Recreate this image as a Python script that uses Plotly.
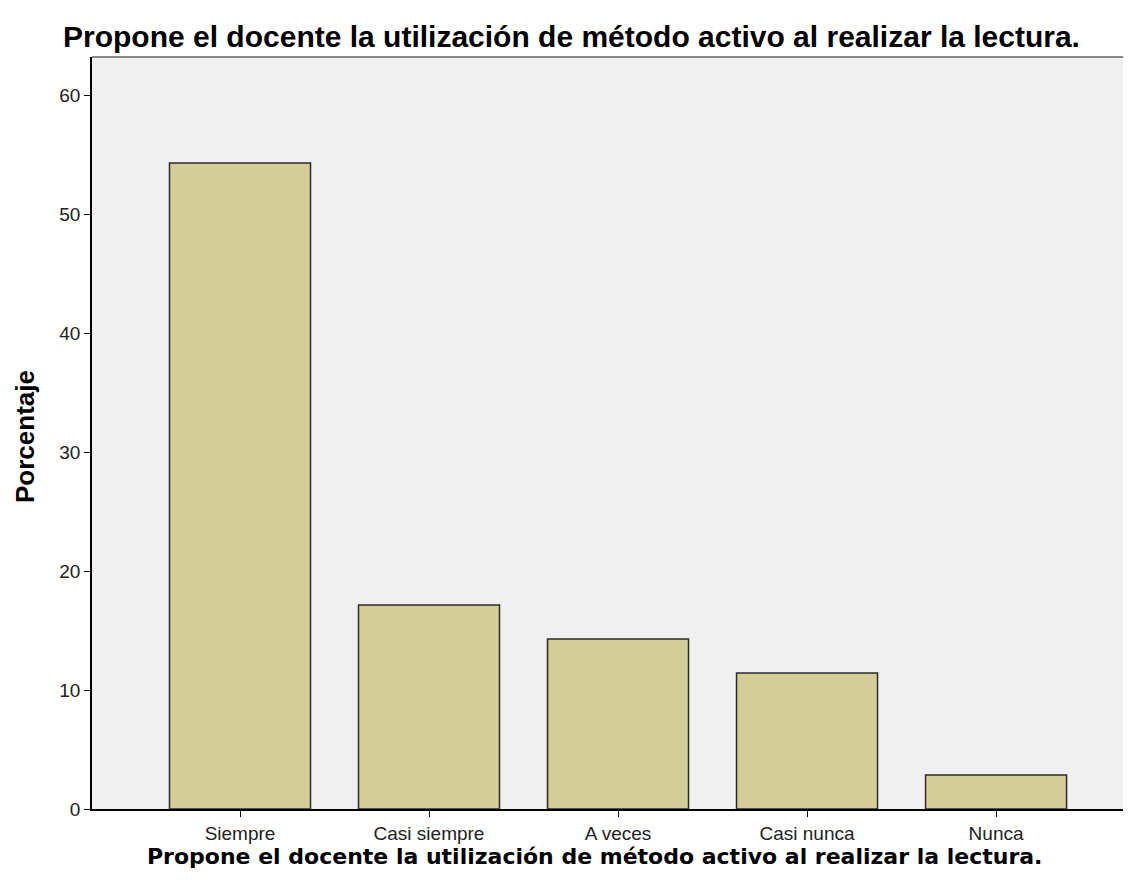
import plotly.graph_objects as go

categories = ["Siempre", "Casi siempre", "A veces", "Casi nunca", "Nunca"]
percentages = [54.29, 17.14, 14.29, 11.43, 2.86]
y_ticks = [0, 10, 20, 30, 40, 50, 60]

title_text = "Propone el docente la utilización de método activo al realizar la lectura."
y_title = "Porcentaje"

W, H = 1131, 890
fig = go.Figure(
    go.Bar(
        x=categories,
        y=percentages,
        width=0.746,
        marker=dict(color="#D3CE98", line=dict(color="#2b2b2b", width=1.5)),
    )
)

fig.update_layout(
    width=W,
    height=H,
    margin=dict(l=84, r=8, t=49, b=89),
    paper_bgcolor="white",
    plot_bgcolor="#F0F0F0",
    showlegend=False,
    title=dict(
        text=title_text,
        x=55 / W,
        xanchor="left",
        xref="container",
        y=1 - 28 / H,
        yanchor="middle",
        yref="container",
        font=dict(family="Liberation Sans", size=30, color="black", weight="bold"),
    ),
    font=dict(family="Liberation Sans", size=19, color="#222222"),
)

fig.update_xaxes(
    range=[-0.783, 4.714],
    showline=True,
    linecolor="black",
    linewidth=1.5,
    ticks="outside",
    ticklen=6,
    tickcolor="black",
    showgrid=False,
    tickfont=dict(family="Liberation Sans", size=19, color="#222222"),
)

fig.update_yaxes(
    range=[0, 63.2],
    tickvals=y_ticks,
    showline=True,
    linecolor="black",
    linewidth=1.5,
    ticks="outside",
    ticklen=6,
    tickcolor="black",
    showgrid=False,
    zeroline=False,
    tickfont=dict(family="Liberation Sans", size=19, color="#222222"),
)

# axis titles
fig.add_annotation(
    text=title_text, xref="paper", yref="paper",
    x=(586 - 84) / (W - 8 - 84), y=-(848 - 801) / (801 - 49),
    xanchor="center", yanchor="middle", showarrow=False,
    font=dict(family="DejaVu Sans", size=22, color="black", weight="bold"),
)
fig.add_annotation(
    text=y_title, xref="paper", yref="paper",
    x=-(84 - 17) / (W - 8 - 84), y=(801 - 429) / (801 - 49),
    xanchor="center", yanchor="middle", textangle=-90, showarrow=False,
    font=dict(family="Liberation Sans", size=26, color="black", weight="bold"),
)

# top border of the plot area
fig.add_shape(
    type="line", xref="paper", yref="paper",
    x0=0, x1=1, y0=1, y1=1,
    line=dict(color="#888888", width=2),
)

fig.write_html("out.html")
